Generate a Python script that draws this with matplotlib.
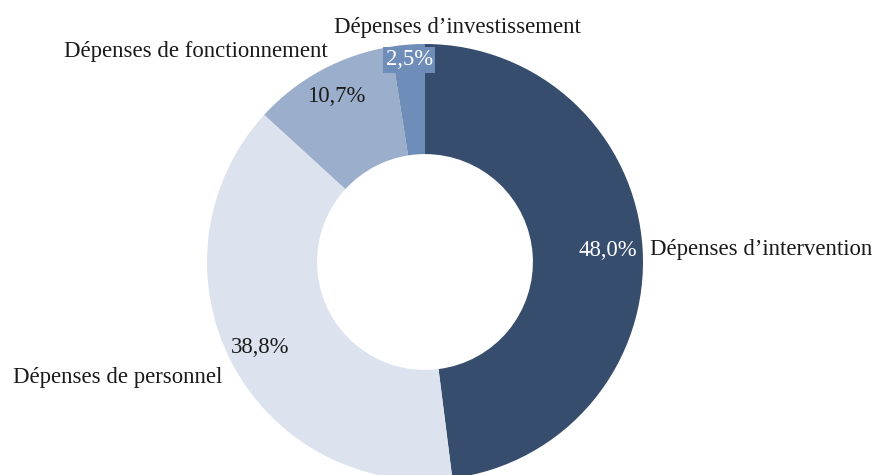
import numpy as np
import matplotlib.pyplot as plt

categories = ["Dépenses d’intervention", "Dépenses de personnel",
              "Dépenses de fonctionnement", "Dépenses d’investissement"]
shares = [48.0, 38.8, 10.7, 2.5]
colors = ["#374d6e", "#dde3ee", "#9baecb", "#6f8db9"]
pct_colors = ["white", "#1a1a1a", "#1a1a1a", "white"]

# radial position of each percentage label, as a fraction of the radius
pct_dist = [0.84, 0.85, 0.86, 0.93]
# category label positions (x, y) in pixels from top-left, plus alignment
cat_pos = [(650, 250, "left"), (222, 377, "right"), (328, 52, "right"), (457, 28, "center")]

W, H = 875, 475
cx, cy, R = 425, H - 262, 218
FS = 16.4

fig = plt.figure(figsize=(W / 100, H / 100), dpi=100)
ax = fig.add_axes([0, 0, 1, 1])
ax.set_xlim(0, W)
ax.set_ylim(0, H)
ax.set_aspect("equal")
ax.axis("off")

plt.rcParams["font.family"] = ["Liberation Serif", "DejaVu Serif"]

wedges, _ = ax.pie(shares, colors=colors, startangle=90, counterclock=False,
                   center=(cx, cy), radius=R,
                   wedgeprops=dict(width=R * 0.505, linewidth=0))
ax.set_xlim(0, W)
ax.set_ylim(0, H)

for w, v, c, k in zip(wedges, shares, pct_colors, pct_dist):
    mid = np.deg2rad((w.theta1 + w.theta2) / 2)
    x = cx + R * k * np.cos(mid)
    y = cy + R * k * np.sin(mid)
    label = f"{v:.1f}%".replace(".", ",")
    kw = {}
    if v < 5:
        kw["bbox"] = dict(boxstyle="square,pad=0.12", fc=w.get_facecolor(), ec="none")
    ax.text(x, y, label, ha="center", va="center", fontsize=FS, color=c, **kw)

for name, (x, y, ha) in zip(categories, cat_pos):
    ax.text(x, H - y, name, ha=ha, va="center", fontsize=FS, color="#1a1a1a")

fig.savefig("out.png", dpi=100, facecolor="white")
